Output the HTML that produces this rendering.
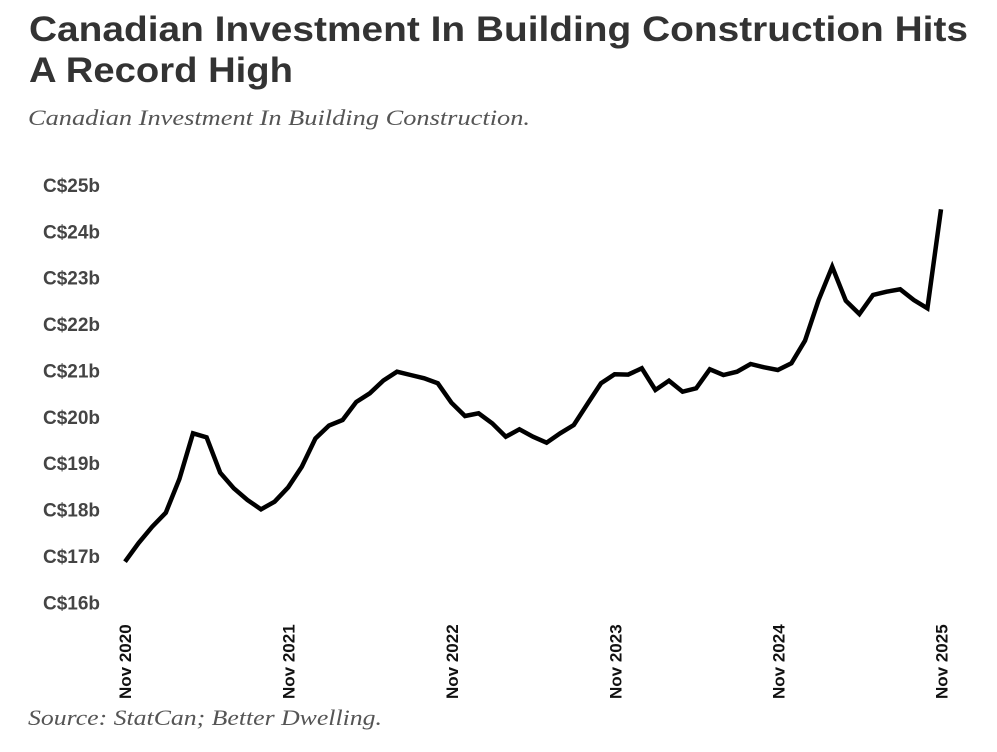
<!DOCTYPE html>
<html>
<head>
<meta charset="utf-8">
<style>
  html, body { margin:0; padding:0; background:#fff; }
  body { width:997px; height:752px; overflow:hidden; }
  svg { display:block; }
</style>
</head>
<body>
<svg width="997" height="752" viewBox="0 0 997 752" xmlns="http://www.w3.org/2000/svg">
  <rect width="997" height="752" fill="#fff"/>
  <!-- Title -->
  <text x="29" y="41" font-family="'Liberation Sans', sans-serif" font-weight="bold" font-size="35" fill="#333" textLength="939" lengthAdjust="spacingAndGlyphs">Canadian Investment In Building Construction Hits</text>
  <text x="29" y="82" font-family="'Liberation Sans', sans-serif" font-weight="bold" font-size="35" fill="#333" textLength="264" lengthAdjust="spacingAndGlyphs">A Record High</text>
  <!-- Subtitle -->
  <text x="28" y="125" font-family="'Liberation Serif', serif" font-style="italic" font-size="22.5" fill="#555" textLength="502" lengthAdjust="spacingAndGlyphs">Canadian Investment In Building Construction.</text>

  <!-- Y labels -->
  <g font-family="'Liberation Sans', sans-serif" font-weight="bold" font-size="19" fill="#444">
    <text x="43" y="192">C$25b</text>
    <text x="43" y="238.4">C$24b</text>
    <text x="43" y="284.7">C$23b</text>
    <text x="43" y="331.1">C$22b</text>
    <text x="43" y="377.5">C$21b</text>
    <text x="43" y="423.9">C$20b</text>
    <text x="43" y="470.2">C$19b</text>
    <text x="43" y="516.6">C$18b</text>
    <text x="43" y="563">C$17b</text>
    <text x="43" y="609.3">C$16b</text>
  </g>

  <!-- X labels -->
  <g font-family="'Liberation Sans', sans-serif" font-weight="bold" font-size="17" fill="#111">
    <text transform="translate(131,699) rotate(-90)">Nov 2020</text>
    <text transform="translate(294.5,699) rotate(-90)">Nov 2021</text>
    <text transform="translate(458,699) rotate(-90)">Nov 2022</text>
    <text transform="translate(621.5,699) rotate(-90)">Nov 2023</text>
    <text transform="translate(784.5,699) rotate(-90)">Nov 2024</text>
    <text transform="translate(947.5,699) rotate(-90)">Nov 2025</text>
  </g>

  <!-- Series -->
  <polyline fill="none" stroke="#000" stroke-width="4.5" stroke-linejoin="miter" stroke-miterlimit="3" points="
    125,561.7 138.6,543 152.2,526.7 165.8,512.7 179.4,479 193,433.3 206.6,437.3 220.2,472.7 233.8,488.3 247.4,500
    261,509.3 274.6,501.7 288.2,487.3 301.8,466.7 315.4,438.5 329,425.5 342.6,420 356.2,402 369.8,393.3 383.4,380.5
    397,371.7 410.6,375 424.2,378.3 437.8,383.3 451.4,402.7 465,416 478.6,413.3 492.2,423.3 505.8,436.7 519.4,429.3
    533,436.7 546.6,442.7 560.2,433.3 573.8,425 587.4,404 601,383.3 614.6,374.3 628.2,374.6 641.8,368.3 655.4,390
    669,380.7 682.6,391.7 696.2,388.3 709.8,369.3 723.4,375 737,371.7 750.6,364 764.2,367.3 777.8,370 791.4,363.3
    805,340.7 818.6,300 832.2,266.7 845.8,300.7 859.4,314 873,295 886.6,291.7 900.2,289.3 913.8,300 927.4,308.3
    941,209.3"/>

  <!-- Source -->
  <text x="28" y="725" font-family="'Liberation Serif', serif" font-style="italic" font-size="22.5" fill="#555" textLength="354" lengthAdjust="spacingAndGlyphs">Source: StatCan; Better Dwelling.</text>
</svg>
</body>
</html>
